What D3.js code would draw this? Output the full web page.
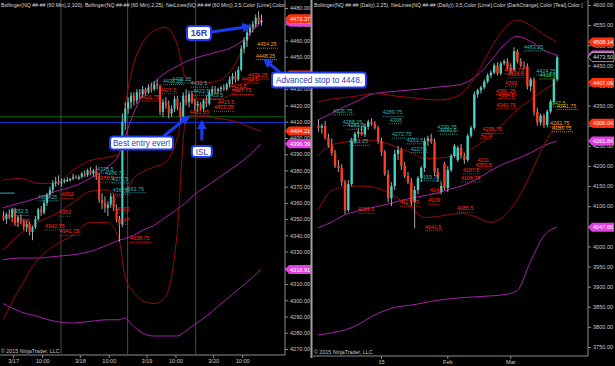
<!DOCTYPE html>
<html>
<head>
<meta charset="utf-8">
<script src="https://cdn.jsdelivr.net/npm/d3@7"></script>
<style>
  html, body { margin: 0; padding: 0; background: #000; }
  svg { display: block; font-family: "Liberation Sans", Arial, sans-serif; }
</style>
</head>
<body>
<svg id="chart" width="615" height="366"></svg>
<script>
// ---- left panel: NQ 60 min, bars [open, high, low, close]
const leftBars = [
  [4352,4355,4349,4350],[4350,4354,4347,4353],[4353,4356,4350,4351],[4351,4357,4349,4356],
  [4356,4357,4346,4348],[4348,4352,4345,4351],[4351,4353,4347,4349],[4349,4350,4343,4345],
  [4345,4349,4342,4347],[4347,4348,4340,4342],[4342,4346,4337,4345],[4345,4352,4344,4350],
  [4350,4357,4349,4356],[4356,4358,4352,4354],[4354,4362,4353,4360],[4360,4366,4358,4365],
  [4365,4370,4363,4368],[4368,4374,4366,4372],[4372,4376,4370,4373],[4373,4377,4371,4372],
  [4372,4375,4370,4373],[4373,4375,4372,4374],[4374,4376,4373,4374],[4374,4375,4373,4375],
  [4375,4378,4374,4376],[4376,4377,4375,4375],[4375,4377,4374,4376],[4376,4379,4375,4378],
  [4378,4380,4376,4377],[4377,4381,4376,4380],[4380,4382,4377,4378],[4378,4381,4376,4380],
  [4380,4383,4374,4376],[4376,4378,4360,4362],[4362,4366,4356,4360],[4360,4364,4354,4357],
  [4357,4361,4352,4359],[4359,4366,4357,4364],[4364,4365,4355,4357],[4357,4359,4348,4350],
  [4350,4352,4336,4347],[4347,4415,4345,4410],[4410,4422,4405,4418],[4418,4425,4415,4422],
  [4422,4428,4418,4426],[4426,4428,4420,4423],[4423,4430,4421,4428],[4428,4430,4424,4427],
  [4427,4432,4425,4430],[4430,4431,4426,4428],[4428,4433,4427,4431],[4431,4434,4428,4430],
  [4430,4435,4429,4433],[4433,4436,4430,4432],[4432,4433,4414,4416],[4416,4424,4413,4422],
  [4422,4425,4418,4420],[4420,4423,4412,4415],[4415,4420,4413,4418],[4418,4426,4416,4424],
  [4424,4426,4417,4419],[4419,4422,4410,4413],[4413,4428,4411,4426],[4426,4430,4420,4422],
  [4422,4429,4419,4427],[4427,4429,4421,4422],[4422,4424,4417,4420],[4420,4423,4416,4421],
  [4421,4422,4417,4418],[4418,4424,4416,4423],[4423,4426,4419,4421],[4421,4430,4420,4428],
  [4428,4432,4426,4430],[4430,4432,4427,4429],[4429,4431,4427,4430],[4430,4432,4428,4431],
  [4431,4433,4429,4430],[4430,4434,4429,4433],[4433,4438,4431,4436],[4436,4440,4433,4438],
  [4438,4441,4434,4436],[4436,4444,4435,4442],[4442,4457,4441,4455],[4455,4462,4452,4460],
  [4460,4467,4456,4465],[4465,4470,4463,4468],[4468,4472,4465,4470],[4470,4476,4468,4474],
  [4474,4478,4470,4472],[4472,4476,4469,4472]
];
// band values read at these bar positions
const leftBandIdx = [0,6,12,18,24,30,36,40,42,45,48,52,56,60,63,66,70,74,78,82,86,89];
const leftBB25Upper = [4374,4375,4372,4372,4380,4386,4388,4390,4418,4445,4458,4466,4468,4458,4437,4434,4434,4435,4440,4452,4466,4473.37];
const leftBB25Mid   = [4331,4341,4348,4353,4360,4367,4368,4364,4366,4375,4379,4382,4385,4399,4423,4424,4424,4424,4426,4430,4436,4438.75];
const leftBB25Lower = [4288,4308,4325,4334,4340,4348,4348,4338,4315,4305,4300,4298,4302,4340,4410,4413,4413,4412,4411,4409,4406,4404.21];
const leftBB100Upper = [4357,4360,4363,4367,4370,4375,4382,4390,4400,4415,4426,4434,4440,4444,4447,4449,4451,4453,4455,4459,4466,4471.43];
const leftBB100Mid   = [4325,4326,4326,4327,4328,4330,4334,4337,4338,4340,4343,4346,4351,4356,4360,4365,4370,4375,4380,4385,4391,4396.39];
const leftBB100Lower = [4298,4293,4290,4287,4286,4287,4288,4288,4289,4284,4280,4278,4278,4278,4281,4285,4290,4296,4302,4308,4314,4318.91];

const leftTimeIdx = [3.5,13.5,26.5,36.5,49.5,59.5,72.5,82.5];
const leftTimeLabels = ["3/17","10:00","3/18","10:00","3/19","10:00","3/20","10:00"];
const leftSessionBreaks = [20, 43, 66.5];
// horizontal lines: [price, from bar, to bar, colour]
const leftLevels = [[4413,-2,100,"#0a6a0a"],[4409.5,-2,100,"#1530d0"],[4366,-2,4,"#2fb3b0"]];
const leftFlags = [[4471.43,"#e040e0","4471.43"],[4473.37,"#ff3010","4473.37"],[4438.75,"#ff3010","4438.75"],
                   [4404.21,"#ff3010","4404.21"],[4396.39,"#e040e0","4396.39"],[4318.91,"#e040e0","4318.91"]];
// netline labels: [bar position, price, text, colour]
const leftNotes = [
  [2.5,4347.5,"4347.75","red"],[3,4353.5,"4352.5","teal"],[12,4362.5,"4363.25","teal"],
  [14.5,4344.5,"4342.75","red"],[19.5,4341.2,"4341.75","red"],[20.3,4364,"4362","red"],[19.3,4353,"4352","red"],
  [32.4,4379.5,"4378.5","teal"],[35.2,4377,"4376.75","teal"],[32.4,4374,"4372.5","red"],
  [37.6,4373.5,"4371.5","teal"],[37.9,4366.5,"4362.5","teal"],[41.9,4367.5,"4363.75","teal"],
  [39.3,4355,"4353","red"],[39.3,4348,"4347","red"],[43.8,4337,"4338.75","red"],
  [55.2,4434,"4434.25","teal"],[58.2,4435,"4436.25","teal"],[64.8,4432.5,"4432.5","teal"],
  [54.1,4428.5,"4427.5","red"],[65.5,4427.5,"4423.5","teal"],[47.2,4424,"4421.75","red"],
  [70.3,4425,"4419.5","teal"],[74.1,4421,"4415.5","red"],[72.8,4417.5,"4413.25","red"],
  [64.3,4415,"4412.25","red"],[84.5,4437.5,"4436.25","red"],[82.4,4435,"4433.5","red"],
  [78.3,4431,"4429.5","red"],[79,4428,"4427.75","red"],
  [87.6,4456.5,"4454.25","orange"],[87.2,4449.5,"4448.25","orange"]
];
// annotation boxes: [text, box centre bar, box centre price, width, height, tip bar, tip price, tail bar, tail price]
const notes = [
  ["16R",67.6,4464.6,24,14,84.5,4468.5,71.8,4465.2],
  ["Advanced stop to 4448.",109,4435.7,94,15,90.7,4447.4,95.4,4440.5],
  ["Best entry ever!",47.8,4396.9,63,13,63.5,4412.5,55.5,4401.2],
  ["ISL",68.6,4391.6,20,11,68.6,4409,68.6,4398.5]
];

// ---- right panel: NQ daily
const rightBars = [
  [4300,4315,4285,4295],[4295,4305,4280,4300],[4300,4312,4265,4270],[4270,4280,4245,4250],
  [4250,4268,4225,4232],[4232,4240,4195,4200],[4200,4215,4185,4195],[4195,4205,4150,4160],
  [4160,4165,4080,4090],[4090,4165,4085,4155],[4155,4270,4150,4262],[4262,4285,4255,4280],
  [4280,4295,4270,4285],[4285,4300,4275,4278],[4278,4305,4272,4298],[4298,4315,4290,4310],
  [4310,4318,4300,4305],[4305,4312,4290,4295],[4295,4300,4255,4262],[4262,4270,4225,4235],
  [4235,4240,4175,4180],[4180,4190,4110,4120],[4120,4160,4100,4150],[4150,4240,4140,4230],
  [4230,4250,4215,4240],[4240,4245,4190,4200],[4200,4210,4170,4175],[4175,4185,4155,4160],
  [4160,4170,4100,4110],[4110,4150,4045,4140],[4140,4175,4130,4170],[4170,4200,4160,4195],
  [4195,4270,4185,4262],[4262,4275,4250,4268],[4268,4280,4255,4260],[4260,4268,4175,4185],
  [4185,4195,4160,4170],[4135,4160,4130,4150],[4205,4210,4140,4145],[4145,4200,4135,4190],
  [4190,4230,4185,4225],[4225,4255,4220,4250],[4215,4250,4210,4245],[4245,4255,4218,4225],
  [4225,4232,4205,4215],[4215,4280,4210,4275],[4275,4300,4270,4295],[4295,4385,4290,4378],
  [4378,4392,4370,4388],[4388,4400,4380,4395],[4395,4415,4390,4410],[4410,4430,4405,4425],
  [4425,4438,4418,4432],[4432,4455,4428,4450],[4450,4458,4425,4430],[4430,4460,4425,4455],
  [4455,4465,4450,4460],[4460,4468,4440,4445],[4445,4455,4430,4438],[4438,4495,4435,4485],
  [4485,4490,4455,4460],[4460,4468,4445,4450],[4450,4460,4440,4448],[4448,4455,4390,4398],
  [4398,4420,4385,4415],[4415,4420,4325,4335],[4335,4345,4300,4308],[4308,4330,4300,4325],
  [4325,4330,4295,4302],[4302,4340,4296,4335],[4335,4365,4330,4360],[4360,4420,4355,4415],
  [4415,4475,4410,4470]
];
const rightBandIdx = [0,4,8,12,16,20,24,28,32,36,40,44,48,52,56,60,64,68,72];
const rightBB25Upper = [4359,4366,4370,4374,4380,4378,4373,4370,4366,4364,4368,4385,4430,4490,4540,4563,4550,4527,4508.14];
const rightBB25Mid   = [4225,4252,4259,4262,4264,4258,4246,4233,4219,4219,4224,4233,4251,4275,4307,4339,4364,4388,4407.09];
const rightBB25Lower = [4090,4138,4148,4150,4148,4138,4120,4097,4072,4074,4080,4082,4072,4060,4075,4115,4178,4250,4306.04];
const rightBBLongUpper = [4314,4330,4347,4362,4378,4383,4386,4389,4392,4396,4399,4405,4425,4460,4500,4522,4510,4488,4476.02];
const rightBBLongMid   = [4046,4060,4078,4088,4096,4103,4112,4120,4126,4133,4143,4152,4168,4188,4205,4218,4232,4250,4261.84];
const rightBBLongLower = [3780,3785,3792,3805,3825,3840,3850,3854,3860,3866,3870,3873,3875,3877,3880,3890,3960,4025,4047.66];

const rightTimeIdx = [19, 39, 58];
const rightTimeLabels = ["15","Feb","Mar"];
const rightFlags = [[4508.14,"#ff3010","4508.14"],[4476.02,"#e040e0","4476.02"],[4470.5,"#000","4473.50"],
                    [4407.09,"#ff3010","4407.09"],[4306.04,"#ff3010","4306.04"],[4261.84,"#e040e0","4261.84"],
                    [4047.66,"#e040e0","4047.66"]];
const rightNotes = [
  [62.1,4491,"4483.25","teal"],[65.8,4431,"4424.25","teal"],[66.8,4421,"4418.5","lime"],
  [56.2,4434,"4426.75","red"],[57.1,4424,"4419.5","red"],[56.4,4402,"4399","red"],
  [53.7,4382,"4381.25","red"],[54.3,4372,"4364.5","red"],[53.8,4347,"4340.75","red"],
  [4.5,4332,"4326.75","teal"],[7.5,4305,"4288.25","teal"],[9,4296,"4281.5","teal"],
  [19.5,4328,"4289.75","teal"],[21.7,4310,"4306","teal"],[22.3,4274,"4272.75","teal"],
  [9.3,4256,"4261.25","teal"],[26.8,4260,"4253.5","teal"],[28,4238,"4227.5","teal"],
  [36,4292,"4299.75","teal"],[36.8,4284,"4293.5","teal"],[49.6,4286,"4295.75","red"],
  [49,4273,"4271","red"],[48.1,4210,"4211","red"],[47.5,4197,"4201.5","red"],
  [43.7,4185,"4187.5","red"],[43.1,4165,"4168.75","red"],[30.8,4168,"4159.75","teal"],
  [33.8,4136,"4141","red"],[24.7,4105,"4117.75","red"],[33.2,4110,"4109","red"],
  [12,4087,"4081.5","red"],[41.9,4090,"4085.5","red"],[32.3,4044,"4041.5","red"],
  [69.7,4352,"4347.5","lime"],[72,4345,"4341.75","orange"],
  [70,4302,"4292.75","orange"],[70.6,4290,"4286.75","orange"]
];

const colors = {
  up: "#3fd4c6", down: "#ff3b1f", doji: "#e0e0e0", wick: "#a8a8a8",
  bb25: "#9a0a0a", bbLong: "#a820a8",
  red: "#ff2a1a", teal: "#2fb3b0", orange: "#ff9a1a", lime: "#44dd22",
  axis: "#8c8c8c", text: "#c8c8c8", note: "#1d3cf0"
};

const svg = d3.select('#chart');
svg.append('rect').attr('width', 615).attr('height', 366).attr('fill', '#000');

const defs = svg.append('defs');
defs.append('clipPath').attr('id', 'clipL').append('rect').attr('x', 0).attr('y', 0).attr('width', 285).attr('height', 355);
defs.append('clipPath').attr('id', 'clipR').append('rect').attr('x', 313).attr('y', 0).attr('width', 275).attr('height', 356);
defs.append('marker').attr('id', 'arrowHead')
  .attr('viewBox', '0 0 10 10').attr('refX', 6).attr('refY', 5)
  .attr('markerWidth', 3.2).attr('markerHeight', 3.2).attr('orient', 'auto')
  .append('path').attr('d', 'M0,0 L10,5 L0,10 Z').attr('fill', colors.note);

function panel(cfg) {
  const x = d3.scaleLinear().domain(cfg.xDomain).range(cfg.xRange);
  const y = d3.scaleLinear().domain(cfg.yDomain).range(cfg.yRange);

  // axes
  const yAxis = d3.axisRight(y).tickValues(cfg.yTicks).tickFormat(d3.format('.2f')).tickSize(3).tickPadding(2);
  const gy = svg.append('g').attr('transform', `translate(${cfg.right},0)`).call(yAxis);
  gy.select('.domain').attr('stroke', colors.axis).attr('d', `M0,0V${cfg.bottom}`);
  gy.selectAll('line').attr('stroke', colors.axis);
  gy.selectAll('text').attr('fill', colors.text).attr('font-size', 5.6);

  const xAxis = d3.axisBottom(x).tickValues(cfg.timeIdx).tickFormat((d, i) => cfg.timeLabels[i]).tickSize(3).tickPadding(1);
  const gx = svg.append('g').attr('transform', `translate(0,${cfg.bottom})`).call(xAxis);
  gx.select('.domain').attr('stroke', colors.axis).attr('d', `M${cfg.left},0H${cfg.right}`);
  gx.selectAll('line').attr('stroke', colors.axis);
  gx.selectAll('text').attr('fill', colors.text).attr('font-size', 5.6);

  const g = svg.append('g').attr('clip-path', `url(#${cfg.clip})`);

  (cfg.breaks || []).forEach(b => {
    g.append('line').attr('x1', x(b)).attr('x2', x(b)).attr('y1', 0).attr('y2', cfg.bottom)
      .attr('stroke', '#4a4a4a').attr('stroke-width', 1);
  });
  (cfg.levels || []).forEach(l => {
    g.append('line').attr('x1', x(l[1])).attr('x2', x(l[2])).attr('y1', y(l[0])).attr('y2', y(l[0]))
      .attr('stroke', l[3]).attr('stroke-width', 1);
  });

  // bands
  const line = d3.line().x(d => x(d[0])).y(d => y(d[1])).curve(d3.curveMonotoneX);
  cfg.bands.forEach(b => {
    g.append('path').datum(cfg.bandIdx.map((k, j) => [k, b.values[j]]))
      .attr('fill', 'none').attr('stroke', b.color).attr('stroke-width', 1).attr('d', line);
  });

  // candles
  const bw = cfg.bodyWidth;
  g.selectAll('.wick').data(cfg.bars).enter().append('line')
    .attr('class', 'wick')
    .attr('x1', (d, i) => x(i) + 0.5).attr('x2', (d, i) => x(i) + 0.5)
    .attr('y1', d => y(d[1])).attr('y2', d => y(d[2]))
    .attr('stroke', colors.wick).attr('stroke-width', 1);
  g.selectAll('.body').data(cfg.bars).enter().append('rect')
    .attr('class', 'body')
    .attr('x', (d, i) => x(i) + 0.5 - bw / 2)
    .attr('y', d => y(Math.max(d[0], d[3])))
    .attr('width', bw)
    .attr('height', d => Math.max(1, Math.abs(y(d[0]) - y(d[3]))))
    .attr('fill', d => d[3] > d[0] ? colors.up : d[3] < d[0] ? colors.down : colors.doji);

  // netline labels with dotted underline
  const notesG = g.selectAll('.nl').data(cfg.notes).enter().append('g').attr('class', 'nl');
  notesG.append('text')
    .attr('x', d => x(d[0])).attr('y', d => y(d[1]))
    .attr('font-size', 5.4).attr('fill', d => colors[d[3]])
    .text(d => d[2]);
  notesG.append('line')
    .attr('x1', d => x(d[0])).attr('x2', d => x(d[0]) + d[2].length * 3.0)
    .attr('y1', d => y(d[1]) + 2).attr('y2', d => y(d[1]) + 2)
    .attr('stroke', d => colors[d[3]]).attr('stroke-width', 0.8).attr('stroke-dasharray', '1,1');

  // header + copyright
  svg.append('text').attr('x', cfg.left + 1).attr('y', 7).attr('font-size', 5.2).attr('fill', '#d8d8d8').text(cfg.title);
  svg.append('text').attr('x', cfg.left + 1).attr('y', cfg.bottom - 2).attr('font-size', 5.3).attr('fill', '#c8c8c8')
    .text('\u00a9 2015 NinjaTrader, LLC');

  // price flags on the axis
  cfg.flags.forEach(f => {
    const fy = y(f[0]);
    const fx = cfg.right;
    const fg = svg.append('g');
    fg.append('path')
      .attr('d', `M${fx},${fy} L${fx + 4},${fy - 4.5} H${fx + 26} V${fy + 4.5} H${fx + 4} Z`)
      .attr('fill', f[1]).attr('stroke', f[1] === '#000' ? '#ddd' : 'none').attr('stroke-width', 0.7);
    fg.append('text').attr('x', fx + 5).attr('y', fy + 2).attr('font-size', 5.6)
      .attr('fill', f[1] === '#000' ? '#ddd' : '#fff').text(f[2]);
  });

  return { x, y };
}

const L = panel({
  xDomain: [0, 89], xRange: [3, 261], yDomain: [4270, 4480], yRange: [349, 8],
  left: 0, right: 285, bottom: 355, clip: 'clipL',
  yTicks: d3.range(4270, 4481, 10), timeIdx: leftTimeIdx, timeLabels: leftTimeLabels,
  breaks: leftSessionBreaks, levels: leftLevels,
  bandIdx: leftBandIdx,
  bands: [
    { values: leftBB100Upper, color: colors.bbLong }, { values: leftBB100Mid, color: colors.bbLong },
    { values: leftBB100Lower, color: colors.bbLong },
    { values: leftBB25Upper, color: colors.bb25 }, { values: leftBB25Mid, color: colors.bb25 },
    { values: leftBB25Lower, color: colors.bb25 }
  ],
  bars: leftBars, bodyWidth: 2, notes: leftNotes, flags: leftFlags,
  title: 'Bollinger(NQ ##-## (60 Min),2,100), Bollinger(NQ ##-## (60 Min),2,25), NetLines(NQ ##-## (60 Min)),3,5,Color [Lime],Color'
});

// panel separator
svg.append('rect').attr('x', 310.5).attr('y', 0).attr('width', 2).attr('height', 358).attr('fill', '#a0a0a0');

panel({
  xDomain: [0, 72], xRange: [318, 556.7], yDomain: [3750, 4600], yRange: [347, 5],
  left: 313, right: 588, bottom: 356, clip: 'clipR',
  yTicks: d3.range(3750, 4601, 50), timeIdx: rightTimeIdx, timeLabels: rightTimeLabels,
  bandIdx: rightBandIdx,
  bands: [
    { values: rightBBLongUpper, color: colors.bbLong }, { values: rightBBLongMid, color: colors.bbLong },
    { values: rightBBLongLower, color: colors.bbLong },
    { values: rightBB25Upper, color: colors.bb25 }, { values: rightBB25Mid, color: colors.bb25 },
    { values: rightBB25Lower, color: colors.bb25 }
  ],
  bars: rightBars, bodyWidth: 2.4, notes: rightNotes, flags: rightFlags,
  title: 'Bollinger(NQ ##-## (Daily),2,25), NetLines(NQ ##-## (Daily)),3,5,Color [Lime],Color [DarkOrange],Color [Teal],Color ['
});

// callouts on the 60 min panel
notes.forEach(n => {
  const cx = L.x(n[1]), cy = L.y(n[2]);
  svg.append('line')
    .attr('x1', L.x(n[7])).attr('y1', L.y(n[8])).attr('x2', L.x(n[5])).attr('y2', L.y(n[6]))
    .attr('stroke', colors.note).attr('stroke-width', 3).attr('marker-end', 'url(#arrowHead)');
  svg.append('rect')
    .attr('x', cx - n[3] / 2).attr('y', cy - n[4] / 2).attr('width', n[3]).attr('height', n[4])
    .attr('rx', 3).attr('fill', '#fff').attr('stroke', colors.note).attr('stroke-width', 2);
  svg.append('text').attr('x', cx).attr('y', cy + 3).attr('text-anchor', 'middle')
    .attr('font-size', n[0] === '16R' ? 9 : 8.2).attr('font-weight', n[0] === '16R' ? 'bold' : 'normal')
    .attr('fill', '#2a3fb8').text(n[0]);
});
</script>
</body>
</html>
